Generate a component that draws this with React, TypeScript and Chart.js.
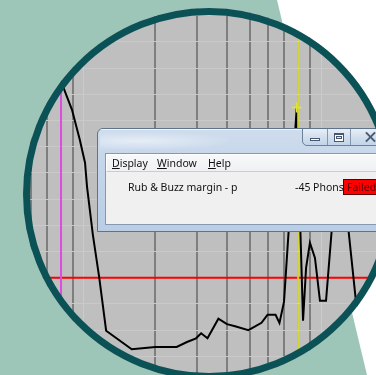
import React, { useEffect, useRef } from "react";
import { Chart, registerables } from "chart.js";

Chart.register(...registerables);

// Measured response: frequency (Hz) and level (dB relative to the limit)
const frequencies = [65, 81, 89, 96, 101, 103, 109, 116, 124, 159, 200, 246, 272, 297, 312, 332, 369, 401, 434, 494, 561, 595, 643, 668, 698, 790, 840, 865, 898, 943, 990, 1050, 1191, 1405, 1580];
const levels = [94.7, 73.7, 64.1, 52.7, 43.9, 34.7, 16.4, 0, -20.2, -27.3, -26.4, -26.4, -24.5, -23.1, -21.2, -23.1, -15.6, -17.7, -18.5, -20.0, -17.2, -14.1, -14.1, -17.2, -9.2, 65, -16.4, 3.8, 13.4, 7.6, -8.8, -8.8, 52.7, -9.2, -22];

// Limit line, lower band edge and cursor
const limitLevel = 0;
const bandStartFreq = 80;
const cursorFreq = 800;
const cursorPoint = { x: 790, y: 65 };

// Grid ticks
const decadeTicks = [100, 1000];
const minorTicks = [50, 60, 70, 80, 90, 200, 300, 400, 500, 600, 700, 800, 900];
const levelTicks = [-30, -20, -10, 0, 10, 20, 30, 40, 50, 60, 70, 80, 90, 100];

// Axis extents
const X_MIN = 100 / Math.pow(10, 84 / 237);
const X_MAX = X_MIN * Math.pow(10, 376 / 237);
const Y_MIN = -37.1;
const Y_MAX = 106.0;

const W = 376;
const H = 375;
const CX = 209;
const CY = 194;
const R = 186;

const uiFont = '"Noto Sans", "Open Sans", sans-serif';

function Plot() {
  const ref = useRef<HTMLCanvasElement | null>(null);
  useEffect(() => {
    const canvas = ref.current;
    if (!canvas) return;
    const curve = frequencies.map((f, i) => ({ x: f, y: levels[i] }));
    const chart = new Chart(canvas, {
      type: "line",
      data: {
        datasets: [
          {
            data: [cursorPoint],
            showLine: false,
            pointStyle: "cross",
            pointRadius: 5,
            pointBorderWidth: 1.5,
            pointBorderColor: "#e4e42a",
            pointBackgroundColor: "#e4e42a",
          },
          {
            data: [
              { x: cursorFreq, y: Y_MIN - 50 },
              { x: cursorFreq, y: Y_MAX + 50 },
            ],
            borderColor: "#ecec2a",
            borderWidth: 1.5,
            pointRadius: 0,
          },
          {
            data: curve,
            borderColor: "#000000",
            borderWidth: 2,
            pointRadius: 0,
            tension: 0,
          },
          {
            data: [
              { x: bandStartFreq, y: Y_MIN - 50 },
              { x: bandStartFreq, y: Y_MAX + 50 },
            ],
            borderColor: "#e24be2",
            borderWidth: 2,
            pointRadius: 0,
          },
          {
            data: [
              { x: X_MIN / 2, y: limitLevel },
              { x: X_MAX * 2, y: limitLevel },
            ],
            borderColor: "#ff0000",
            borderWidth: 2,
            pointRadius: 0,
          },
        ],
      },
      options: {
        animation: false,
        responsive: false,
        maintainAspectRatio: false,
        layout: { padding: 0, autoPadding: false },
        plugins: { legend: { display: false }, tooltip: { enabled: false } },
        scales: {
          x: {
            type: "logarithmic",
            min: X_MIN,
            max: X_MAX,
            afterBuildTicks: (s: any) => {
              s.ticks = [...minorTicks, ...decadeTicks]
                .sort((a, b) => a - b)
                .map((v) => ({ value: v }));
            },
            ticks: { display: false },
            border: { display: false },
            grid: {
              drawTicks: false,
              color: (ctx: any) =>
                ctx.tick && decadeTicks.includes(ctx.tick.value) ? "#cbcbcb" : "#7e7e7e",
              lineWidth: (ctx: any) =>
                ctx.tick && decadeTicks.includes(ctx.tick.value) ? 1 : 2,
            },
          },
          y: {
            type: "linear",
            min: Y_MIN,
            max: Y_MAX,
            afterBuildTicks: (s: any) => {
              s.ticks = levelTicks.map((v) => ({ value: v }));
            },
            ticks: { display: false },
            border: { display: false },
            grid: { drawTicks: false, color: "#c9c9c9", lineWidth: 1 },
          },
        },
      },
    });
    return () => chart.destroy();
  }, []);
  return (
    <canvas
      ref={ref}
      width={W}
      height={H}
      style={{ position: "absolute", left: 0, top: 0, width: W, height: H, display: "block" }}
    />
  );
}

function Label(props: { x: number; y: number; children: React.ReactNode; color?: string }) {
  return (
    <span
      style={{
        position: "absolute",
        left: props.x,
        top: props.y,
        fontFamily: uiFont,
        fontSize: "10.5px",
        lineHeight: "14px",
        whiteSpace: "nowrap",
        color: props.color || "#111111",
      }}
    >
      {props.children}
    </span>
  );
}

function ResultWindow() {
  // window frame placed at (97,128); children use coordinates relative to it
  return (
    <div
      style={{
        position: "absolute",
        left: 97,
        top: 128,
        width: 300,
        height: 104,
        boxSizing: "border-box",
        border: "1px solid #5f738c",
        borderRadius: "6px 0 0 0",
        background: "linear-gradient(180deg,#cfdcec 0%,#c3d5ea 40%,#b9cde5 100%)",
        overflow: "hidden",
      }}
    >
      <div
        style={{
          position: "absolute",
          left: 0,
          top: 0,
          width: 300,
          height: 1,
          background: "rgba(255,255,255,0.7)",
        }}
      />
      <div
        style={{
          position: "absolute",
          left: 2,
          top: 3,
          width: 130,
          height: 18,
          background:
            "radial-gradient(ellipse at 30% 50%, rgba(236,242,249,0.8) 0%, rgba(226,235,246,0.45) 45%, rgba(220,232,245,0) 75%)",
        }}
      />
      {/* caption buttons */}
      <div
        style={{
          position: "absolute",
          left: 204,
          top: -1,
          width: 110,
          height: 18,
          boxSizing: "border-box",
          border: "1px solid #6c809a",
          borderRadius: "0 0 5px 5px",
          background: "linear-gradient(180deg,#e8eef6 0%,#d2dfee 50%,#c3d4e9 100%)",
        }}
      />
      <div style={{ position: "absolute", left: 229, top: 0, width: 1, height: 16, background: "#8497af" }} />
      <div style={{ position: "absolute", left: 252, top: 0, width: 1, height: 16, background: "#8497af" }} />
      <div
        style={{
          position: "absolute",
          left: 212,
          top: 9,
          width: 10,
          height: 3,
          boxSizing: "border-box",
          border: "1px solid #45586f",
          background: "#ffffff",
        }}
      />
      <div
        style={{
          position: "absolute",
          left: 236,
          top: 4,
          width: 10,
          height: 9,
          boxSizing: "border-box",
          border: "1px solid #45586f",
          borderTopWidth: 2,
          background: "#ffffff",
        }}
      >
        <div
          style={{
            position: "absolute",
            left: 1,
            top: 1,
            width: 6,
            height: 3,
            boxSizing: "border-box",
            border: "1px solid #45586f",
            background: "#dfe7f1",
          }}
        />
      </div>
      <div
        style={{
          position: "absolute",
          left: 266,
          top: 7,
          width: 13,
          height: 2,
          background: "#4a5d74",
          transform: "rotate(45deg)",
        }}
      />
      <div
        style={{
          position: "absolute",
          left: 266,
          top: 7,
          width: 13,
          height: 2,
          background: "#4a5d74",
          transform: "rotate(-45deg)",
        }}
      />
      {/* client area */}
      <div
        style={{
          position: "absolute",
          left: 7,
          top: 24,
          width: 300,
          height: 72,
          boxSizing: "border-box",
          border: "1px solid #8598b0",
          background: "#f0f0f0",
        }}
      >
        <div
          style={{
            position: "absolute",
            left: 0,
            top: 0,
            width: 300,
            height: 18,
            boxSizing: "border-box",
            borderTop: "1px solid #ffffff",
            borderLeft: "1px solid #ffffff",
            borderBottom: "1px solid #c9cdd3",
            background: "linear-gradient(180deg,#f7f8fa,#eef0f3)",
          }}
        />
        <Label x={6} y={1.5}>
          <u>D</u>isplay
        </Label>
        <Label x={51} y={1.5}>
          <u>W</u>indow
        </Label>
        <Label x={102} y={1.5}>
          <u>H</u>elp
        </Label>
        <Label x={22} y={26}>
          Rub &amp; Buzz margin - p
        </Label>
        <Label x={189} y={26}>
          -45 Phons
        </Label>
        <div
          style={{
            position: "absolute",
            left: 237,
            top: 25,
            width: 80,
            height: 16,
            boxSizing: "border-box",
            border: "1px solid #5a0000",
            background: "#ff0000",
          }}
        />
        <Label x={241} y={26} color="#5c0000">
          Failed
        </Label>
      </div>
    </div>
  );
}

export default function App() {
  useEffect(() => {
    document.body.style.margin = "0";
  }, []);
  return (
    <div
      style={{
        position: "fixed",
        left: 0,
        top: 0,
        width: W,
        height: H,
        overflow: "hidden",
        background: "#9dc6b8",
      }}
    >
      <div
        style={{
          position: "absolute",
          left: 0,
          top: 0,
          width: W,
          height: H,
          background: "#ffffff",
          clipPath: "polygon(277px 0px, 376px 0px, 376px 375px, 367px 375px)",
        }}
      />
      <div
        style={{
          position: "absolute",
          left: 0,
          top: 0,
          width: W,
          height: H,
          background: "#bfbfbf",
          clipPath: `circle(${R}px at ${CX}px ${CY}px)`,
        }}
      >
        <Plot />
        <ResultWindow />
      </div>
      <div
        style={{
          position: "absolute",
          left: CX - R,
          top: CY - R,
          width: 2 * R,
          height: 2 * R,
          boxSizing: "border-box",
          border: "7px solid #0b5257",
          borderRadius: "50%",
          pointerEvents: "none",
        }}
      />
    </div>
  );
}
